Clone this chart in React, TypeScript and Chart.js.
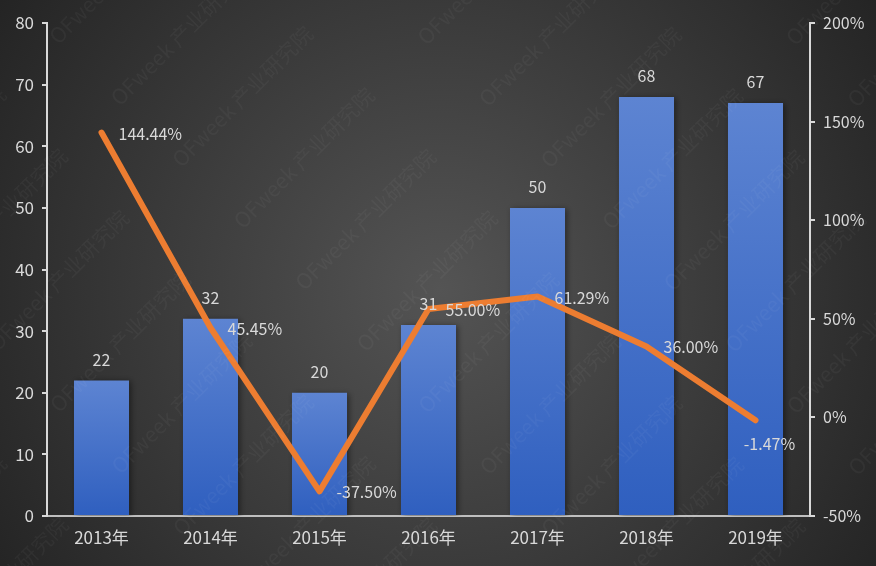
import React, { useEffect, useRef } from "react";
import { Chart, registerables } from "chart.js";

Chart.register(...registerables);

const categories = ["2013年", "2014年", "2015年", "2016年", "2017年", "2018年", "2019年"];
const shipments = [22, 32, 20, 31, 50, 68, 67];
const growth = [144.44, 45.45, -37.5, 55.0, 61.29, 36.0, -1.47];

const FONT = "'Noto Sans CJK SC', 'Noto Sans', sans-serif";
const TEXT = "#d9d9d9";
const WATERMARK = "OFweek 产业研究院";

const backgroundPlugin = {
  id: "bg",
  beforeDraw(chart: any) {
    const { ctx, width, height } = chart;
    ctx.save();
    const g = ctx.createRadialGradient(440, 290, 0, 440, 290, 560);
    g.addColorStop(0, "#545454");
    g.addColorStop(1, "#212121");
    ctx.fillStyle = g;
    ctx.fillRect(0, 0, width, height);
    ctx.restore();
  },
};

const shadowPlugin = {
  id: "barShadow",
  beforeDatasetDraw(chart: any, args: any) {
    if (args.index !== 0) return;
    const ctx = chart.ctx;
    ctx.save();
    ctx.shadowColor = "rgba(0,0,0,0.45)";
    ctx.shadowBlur = 6;
    ctx.shadowOffsetX = 2;
    ctx.shadowOffsetY = 1;
  },
  afterDatasetDraw(chart: any, args: any) {
    if (args.index !== 0) return;
    chart.ctx.restore();
  },
};

const labelsPlugin = {
  id: "labels",
  afterDatasetsDraw(chart: any) {
    const ctx = chart.ctx;
    ctx.save();
    ctx.font = `16px ${FONT}`;
    ctx.fillStyle = TEXT;
    const barMeta = chart.getDatasetMeta(0);
    ctx.textAlign = "center";
    ctx.textBaseline = "middle";
    barMeta.data.forEach((el: any, i: number) => {
      ctx.fillText(String(shipments[i]), el.x, el.y - 21);
    });
    const lineMeta = chart.getDatasetMeta(1);
    lineMeta.data.forEach((el: any, i: number) => {
      const txt = growth[i].toFixed(2) + "%";
      if (i === growth.length - 1) {
        ctx.textAlign = "center";
        ctx.fillText(txt, el.x + 14, el.y + 24);
      } else {
        ctx.textAlign = "left";
        ctx.fillText(txt, el.x + 17, el.y + 1);
      }
    });
    ctx.restore();
  },
};

const watermarkPlugin = {
  id: "watermark",
  afterDraw(chart: any) {
    const ctx = chart.ctx;
    ctx.save();
    ctx.font = `21px ${FONT}`;
    ctx.fillStyle = "rgba(255,255,255,0.04)";
    ctx.translate(243, 230);
    ctx.rotate(-Math.PI / 4);
    for (let r = -12; r <= 12; r++) {
      for (let c = -6; c <= 6; c++) {
        ctx.fillText(WATERMARK, c * 260, r * 87);
      }
    }
    ctx.restore();
  },
};

export default function App() {
  const ref = useRef<HTMLCanvasElement | null>(null);

  useEffect(() => {
    if (!ref.current) return;
    const chart = new Chart(ref.current, {
      type: "bar",
      data: {
        labels: categories,
        datasets: [
          {
            type: "bar",
            data: shipments,
            yAxisID: "y",
            order: 1,
            categoryPercentage: 1,
            barPercentage: 0.505,
            backgroundColor: (c: any) => {
              const chart = c.chart;
              if (!chart.chartArea || c.type !== "data") return "#4a72c8";
              const y = chart.scales.y;
              const top = y.getPixelForValue(c.raw);
              const bottom = y.getPixelForValue(0);
              const g = chart.ctx.createLinearGradient(0, top, 0, bottom);
              g.addColorStop(0, "#5d84d2");
              g.addColorStop(1, "#2f5fbf");
              return g;
            },
            borderWidth: 0,
          } as any,
          {
            type: "line",
            data: growth,
            yAxisID: "y1",
            order: 0,
            borderColor: "#ed7d31",
            borderWidth: 6,
            pointRadius: 0,
            tension: 0,
            borderCapStyle: "round",
            borderJoinStyle: "round",
          } as any,
        ],
      },
      options: {
        animation: false,
        responsive: false,
        layout: { padding: { top: 23, left: 0, right: 0, bottom: 0 } },
        plugins: {
          legend: { display: false },
          tooltip: { enabled: false },
        },
        scales: {
          x: {
            grid: { display: false, drawTicks: false },
            border: { display: true, color: "#bfbfbf", width: 2 },
            ticks: { color: TEXT, font: { size: 17, family: FONT }, padding: 11 },
            afterFit: (s: any) => {
              s.height = 50;
            },
          },
          y: {
            position: "left",
            min: 0,
            max: 80,
            ticks: { stepSize: 10, color: TEXT, font: { size: 17, family: FONT }, padding: 8 },
            grid: { drawOnChartArea: false, drawTicks: true, tickLength: 5, color: TEXT, lineWidth: 2 },
            border: { display: true, color: TEXT, width: 2 },
            afterFit: (s: any) => {
              s.width = 47;
            },
          },
          y1: {
            position: "right",
            min: -50,
            max: 200,
            ticks: {
              stepSize: 50,
              color: TEXT,
              font: { size: 16, family: FONT },
              padding: 8,
              callback: (v: any) => v + "%",
            },
            grid: { drawOnChartArea: false, drawTicks: true, tickLength: 5, color: TEXT, lineWidth: 2 },
            border: { display: true, color: TEXT, width: 2 },
            afterFit: (s: any) => {
              s.width = 66;
            },
          },
        },
      } as any,
      plugins: [backgroundPlugin, shadowPlugin, labelsPlugin, watermarkPlugin],
    });
    return () => chart.destroy();
  }, []);

  return (
    <div style={{ position: "fixed", left: 0, top: 0, width: 876, height: 566 }}>
      <canvas ref={ref} width={876} height={566} style={{ width: 876, height: 566, display: "block" }} />
    </div>
  );
}
